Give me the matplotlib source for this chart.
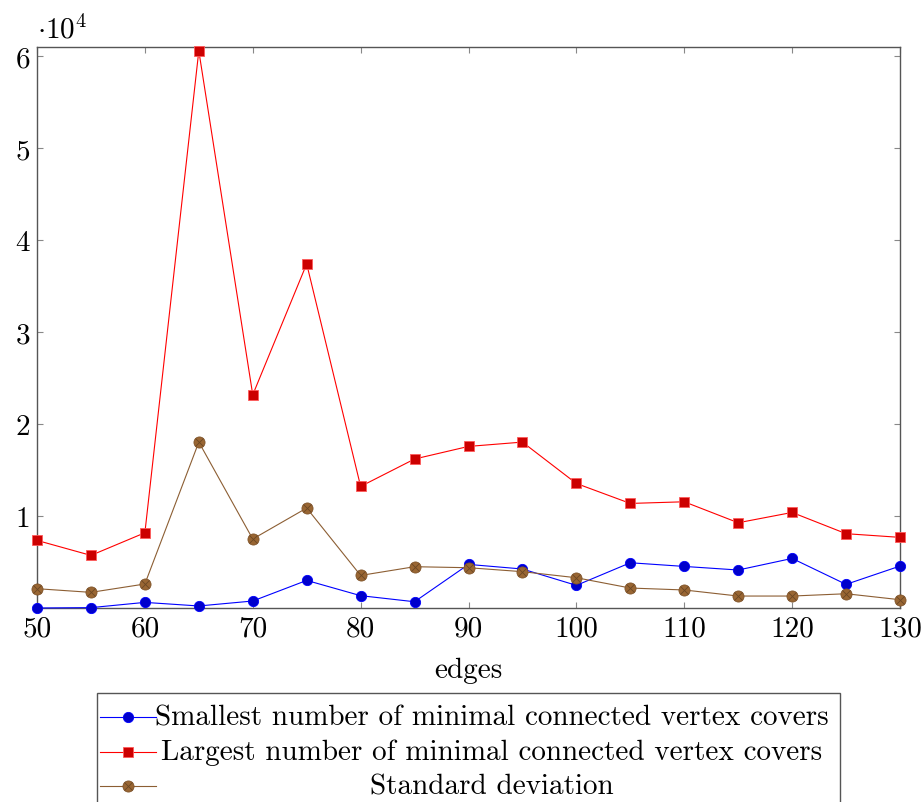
import matplotlib
matplotlib.use("Agg")
import matplotlib.pyplot as plt
from matplotlib.lines import Line2D
from matplotlib.patches import Rectangle

plt.rcParams['font.family'] = 'serif'
plt.rcParams['font.serif'] = ['cmr10']
plt.rcParams['mathtext.fontset'] = 'cm'
plt.rcParams['axes.unicode_minus'] = False

edges = [50, 55, 60, 65, 70, 75, 80, 85, 90, 95, 100, 105, 110, 115, 120, 125, 130]
smallest = [0, 40, 610, 220, 760, 3000, 1340, 680, 4740, 4240, 2460, 4920, 4520, 4130, 5390, 2570, 4560]
largest = [7350, 5720, 8180, 60580, 23180, 37420, 13220, 16200, 17570, 18040, 13540, 11370, 11550, 9270, 10390, 8080, 7680]
stddev = [2100, 1700, 2610, 18040, 7500, 10870, 3540, 4490, 4380, 3950, 3290, 2170, 1960, 1300, 1300, 1550, 900]

series_names = ["Smallest number of minimal connected vertex covers",
                "Largest number of minimal connected vertex covers",
                "Standard deviation"]
xticks = [50, 60, 70, 80, 90, 100, 110, 120, 130]
yticks = [10000, 20000, 30000, 40000, 50000, 60000]
ytick_labels = ["1", "2", "3", "4", "5", "6"]

W, H = 923, 803
fig = plt.figure(figsize=(W / 100, H / 100), dpi=100)
ax = fig.add_axes([37 / W, 1 - 609 / H, (900 - 37) / W, (609 - 48) / H])

FS = 21
blue_style = dict(color=(0, 0, 1), lw=0.8, marker='o', ms=7.4,
                  mfc=(0, 0, 0.8), mec=(0, 0, 1), mew=0.6)
red_style = dict(color=(1, 0, 0), lw=0.8, marker='s', ms=7.6,
                 mfc=(0.8, 0, 0), mec=(1, 0.35, 0.35), mew=0.6)
brown_style = dict(color=(0.55, 0.37, 0.2), lw=0.8, marker='o', ms=8.0,
                   mfc=(0.6, 0.4, 0.2), mec=(0.5, 0.33, 0.17), mew=0.6)
brown_x = dict(ls='none', marker='x', ms=5.2, mec=(0.42, 0.28, 0.14), mew=0.6)

ax.plot(edges, smallest, zorder=3, clip_on=False, **blue_style)
ax.plot(edges, largest, zorder=3, clip_on=False, **red_style)
ax.plot(edges, stddev, zorder=3, clip_on=False, **brown_style)
ax.plot(edges, stddev, zorder=4, clip_on=False, **brown_x)

ax.set_xlim(50, 130)
ax.set_ylim(0, 61000)
ax.set_xticks(xticks)
ax.set_xticklabels([str(v) for v in xticks])
ax.set_yticks(yticks)
ax.set_yticklabels(ytick_labels)
ax.tick_params(direction='in', length=4.5, width=0.8, color='#888888',
               top=True, right=True, labelsize=FS, pad=5)
for s in ax.spines.values():
    s.set_color('#555555')
    s.set_linewidth(1.0)
ax.set_xlabel("edges", fontsize=FS, labelpad=11)

fig.text(37 / W, 1 - 30 / H, r"$\cdot10^4$", fontsize=FS, ha='left', va='center')

# Legend (pgfplots style, centered text)
lx0, lx1, ly0 = 97, 840, 694
fig.add_artist(Rectangle((lx0 / W, -0.05), (lx1 - lx0) / W, 1.05 - ly0 / H,
                         transform=fig.transFigure, fill=False,
                         ec='#555555', lw=1.0, clip_on=False))
rows = [718, 753, 787]
styles = [(blue_style, None), (red_style, None), (brown_style, brown_x)]
for name, y, (st, extra) in zip(series_names, rows, styles):
    yf = 1 - y / H
    fig.add_artist(Line2D([100 / W, 156 / W], [yf, yf], transform=fig.transFigure,
                          color=st['color'], lw=st['lw']))
    mst = {k: v for k, v in st.items() if k not in ('color', 'lw')}
    fig.add_artist(Line2D([128 / W], [yf], transform=fig.transFigure, ls='none', **mst))
    if extra is not None:
        fig.add_artist(Line2D([128 / W], [yf], transform=fig.transFigure, **extra))
    fig.text(492 / W, yf, name, fontsize=FS, ha='center', va='center')

fig.savefig("out.png", dpi=100)
